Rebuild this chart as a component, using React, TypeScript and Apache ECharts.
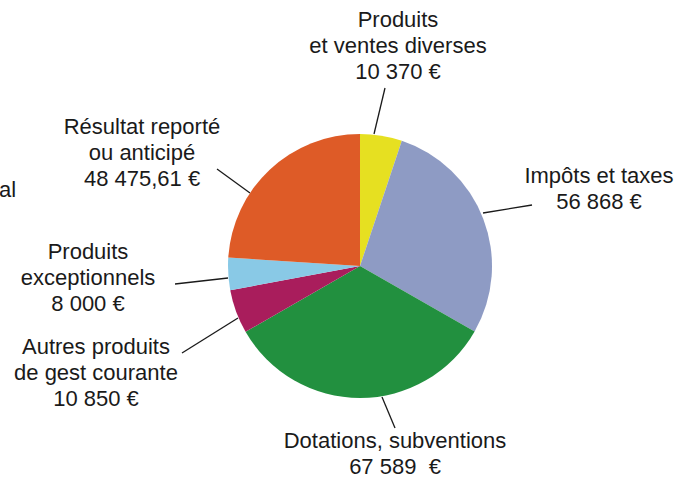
import React, { useEffect, useRef } from "react";
import * as echarts from "echarts";

const categories = [
  "Produits\net ventes diverses",
  "Impôts et taxes",
  "Dotations, subventions",
  "Autres produits\nde gest courante",
  "Produits\nexceptionnels",
  "Résultat reporté\nou anticipé",
];
const values = [10370, 56868, 67589, 10850, 8000, 48475.61];
const valueLabels = ["10 370 €", "56 868 €", "67 589  €", "10 850 €", "8 000 €", "48 475,61 €"];
const colors = ["#e6e021", "#8e9bc4", "#22903f", "#a91d5c", "#89c9e6", "#de5b27"];

// label block centres and leader lines (layout only)
const labelPos = [
  [398, 45],
  [599, 188],
  [395, 453],
  [96, 372],
  [88, 277],
  [142, 152],
];
const leaderLines = [
  [[374, 134], [385, 88]],
  [[483, 213], [532, 205]],
  [[382, 397], [395, 428]],
  [[238, 318], [182, 353]],
  [[228, 278], [175, 284]],
  [[250, 193], [217, 169]],
];

export default function App() {
  const ref = useRef<HTMLDivElement>(null);
  useEffect(() => {
    if (!ref.current) return;
    const chart = echarts.init(ref.current, null, { renderer: "svg" });
    chart.setOption({
      animation: false,
      backgroundColor: "#ffffff",
      graphic: [
        {
          type: "text",
          left: -1,
          top: 178,
          style: { text: "al", fontSize: 22, fontFamily: "Liberation Sans, Arial, sans-serif", fill: "#1a1a1a" },
        },
      ],
      series: [
        {
          type: "pie",
          center: [360, 266],
          radius: 132,
          startAngle: 90,
          clockwise: true,
          avoidLabelOverlap: false,
          emphasis: { disabled: true },
          itemStyle: { borderWidth: 0 },
          data: categories.map((name, i) => ({
            name,
            value: values[i],
            itemStyle: { color: colors[i] },
          })),
          label: {
            show: true,
            position: "outside",
            formatter: (p: any) => p.name + "\n" + valueLabels[p.dataIndex],
            fontSize: 22,
            lineHeight: 26,
            fontFamily: "Liberation Sans, Arial, sans-serif",
            color: "#1a1a1a",
            align: "center",
          },
          labelLine: {
            show: true,
            length: 20,
            length2: 10,
            lineStyle: { color: "#1a1a1a", width: 1.3 },
          },
          labelLayout: (params: any) => {
            const i = params.dataIndex;
            return {
              x: labelPos[i][0],
              y: labelPos[i][1],
              align: "center",
              verticalAlign: "middle",
              labelLinePoints: leaderLines[i],
            };
          },
        },
      ],
    });
    return () => chart.dispose();
  }, []);
  return (
    <div
      ref={ref}
      style={{ position: "fixed", left: 0, top: 0, width: 691, height: 477 }}
    />
  );
}
